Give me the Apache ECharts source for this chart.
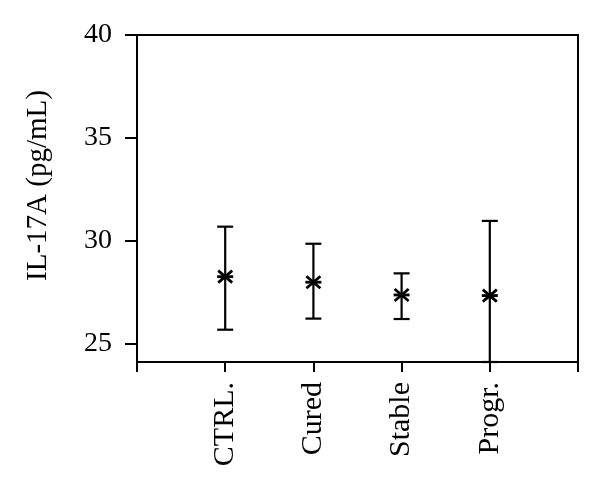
<!DOCTYPE html>
<html>
<head>
<meta charset="utf-8">
<script src="https://cdn.jsdelivr.net/npm/echarts@6/dist/echarts.min.js"></script>
<style>html,body{margin:0;padding:0;background:#fff}#c{width:600px;height:490px}</style>
</head>
<body>
<div id="c"></div>
<script>
var categories = ['CTRL.', 'Cured', 'Stable', 'Progr.'];
var means = [28.25, 27.98, 27.36, 27.33];
var lows = [25.67, 26.21, 26.19, 24.1];
var highs = [30.68, 29.85, 28.41, 30.96];
var yTicks = [25, 30, 35, 40];
var yName = 'IL-17A (pg/mL)';

var FONT = '"Liberation Serif", "DejaVu Serif", serif';
var data = categories.map(function (c, i) { return [i + 1, means[i], lows[i], highs[i]]; });

var chart = echarts.init(document.getElementById('c'), null, {renderer: 'canvas'});
chart.setOption({
  animation: false,
  backgroundColor: '#fff',
  grid: {left: 137, right: 22, top: 35, bottom: 128, show: true, borderColor: '#000', borderWidth: 2, backgroundColor: 'transparent'},
  xAxis: {
    type: 'value', min: 0, max: 5, interval: 1,
    axisLine: {show: true, lineStyle: {color: '#000', width: 2}},
    axisTick: {show: true, length: 10, lineStyle: {color: '#000', width: 2}},
    splitLine: {show: false},
    axisLabel: {
      rotate: 90, margin: 20, color: '#000', fontFamily: FONT, fontSize: 30,
      formatter: function (v) { return categories[v - 1] || ''; }
    }
  },
  yAxis: {
    type: 'value', min: 24.1, max: 40,
    name: yName, nameLocation: 'middle', nameGap: 84, nameRotate: 90,
    nameTextStyle: {color: '#000', fontFamily: FONT, fontSize: 29, padding: [0, 0, 0, 26]},
    axisLine: {show: true, lineStyle: {color: '#000', width: 2}},
    axisTick: {show: true, length: 12, customValues: yTicks, lineStyle: {color: '#000', width: 2}},
    axisLabel: {margin: 25, color: '#000', fontFamily: FONT, fontSize: 28, customValues: yTicks},
    splitLine: {show: false}
  },
  series: [{
    type: 'custom',
    clip: false,
    data: data,
    renderItem: function (params, api) {
      var x = api.value(0);
      var m = api.coord([x, api.value(1)]);
      var lo = api.coord([x, api.value(2)]);
      var hi = api.coord([x, api.value(3)]);
      var st = {stroke: '#000', lineWidth: 2.2};
      var st2 = {stroke: '#000', lineWidth: 2.8};
      var cw = 8;
      return {
        type: 'group',
        children: [
          {type: 'line', shape: {x1: lo[0], y1: lo[1], x2: hi[0], y2: hi[1]}, style: st},
          {type: 'line', shape: {x1: hi[0] - cw, y1: hi[1], x2: hi[0] + cw, y2: hi[1]}, style: st},
          {type: 'line', shape: {x1: lo[0] - cw, y1: lo[1], x2: lo[0] + cw, y2: lo[1]}, style: st},
          {type: 'line', shape: {x1: m[0] - 8, y1: m[1], x2: m[0] + 8, y2: m[1]}, style: st2},
          {type: 'line', shape: {x1: m[0] - 7, y1: m[1] - 6, x2: m[0] + 7, y2: m[1] + 6}, style: st2},
          {type: 'line', shape: {x1: m[0] - 7, y1: m[1] + 6, x2: m[0] + 7, y2: m[1] - 6}, style: st2}
        ]
      };
    }
  }]
});
</script>
</body>
</html>
